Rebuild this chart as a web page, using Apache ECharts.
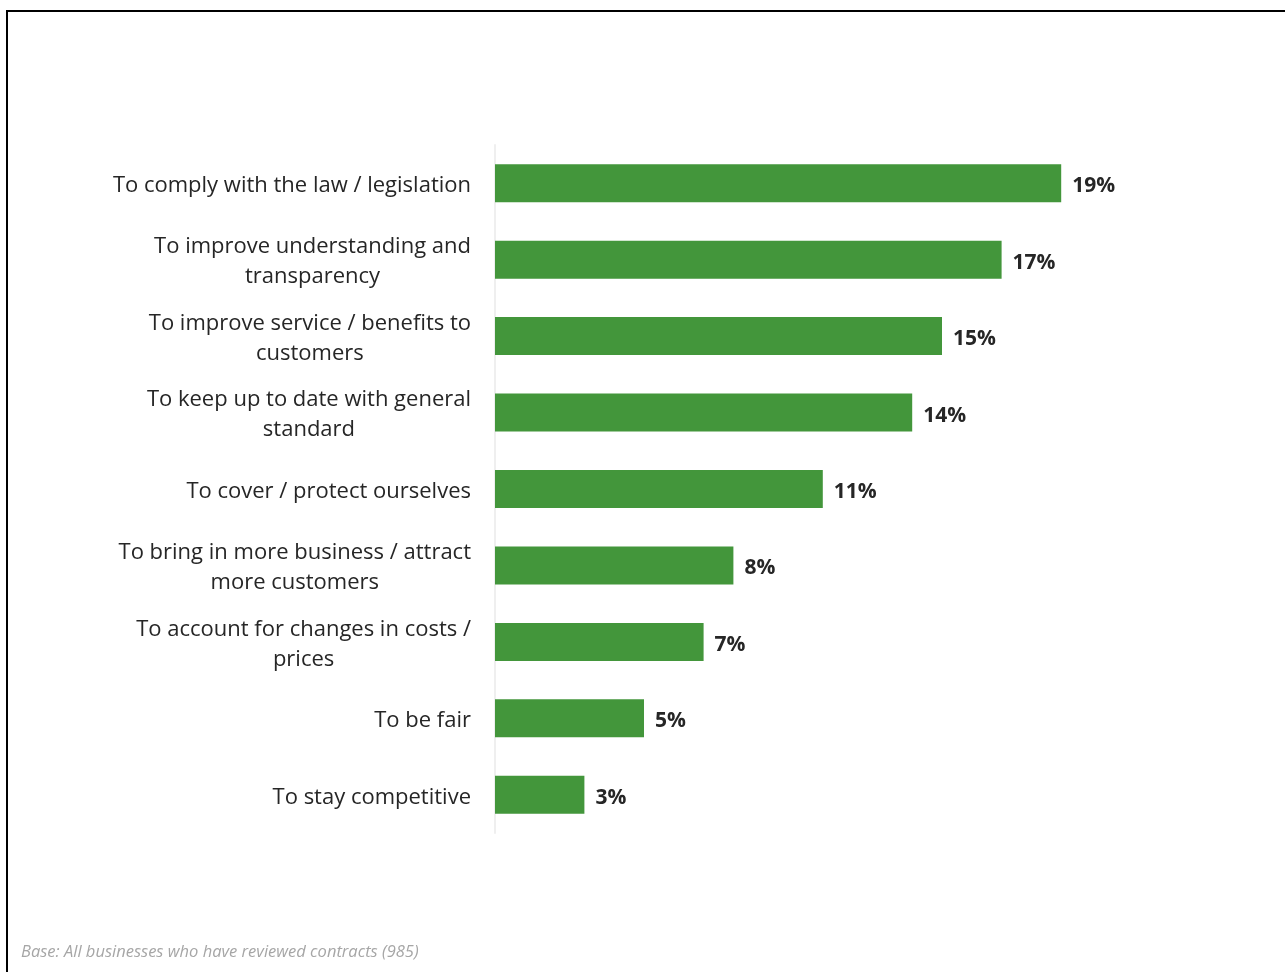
<!DOCTYPE html>
<html>
<head>
<meta charset="utf-8">
<script src="https://cdn.jsdelivr.net/npm/echarts@6/dist/echarts.min.js"></script>
<style>
  html, body { margin: 0; padding: 0; background: #fff; }
  #chart { width: 1285px; height: 972px; position: relative; }
  #frame {
    position: absolute; left: 6px; top: 10px; width: 1300px; height: 1000px;
    border-left: 2px solid #000; border-top: 2px solid #000; pointer-events: none;
  }
</style>
</head>
<body>
<div id="chart"></div>
<div id="frame"></div>
<script>
// Reasons for reviewing contracts (share of businesses, %)
const categories = [
  'To comply with the law / legislation',
  'To improve understanding and\ntransparency',
  'To improve service / benefits to\ncustomers',
  'To keep up to date with general\nstandard',
  'To cover / protect ourselves',
  'To bring in more business / attract\nmore customers',
  'To account for changes in costs /\nprices',
  'To be fair',
  'To stay competitive'
];
const values = [19, 17, 15, 14, 11, 8, 7, 5, 3];
const footnote = 'Base: All businesses who have reviewed contracts (985)';

const chart = echarts.init(document.getElementById('chart'), null, { renderer: 'canvas' });
chart.setOption({
  animation: false,
  backgroundColor: '#ffffff',
  graphic: [{
    type: 'text',
    left: 21,
    top: 944,
    style: {
      text: footnote,
      fill: '#a6a6a6',
      font: 'italic 16.5px "Open Sans", sans-serif'
    }
  }],
  grid: { left: 495, top: 145, width: 596, height: 688, containLabel: false },
  xAxis: {
    type: 'value',
    min: 0,
    max: 20,
    show: false
  },
  yAxis: {
    type: 'category',
    inverse: true,
    data: categories,
    axisLine: { show: true, lineStyle: { color: '#efefef', width: 2 } },
    axisTick: { show: false },
    splitLine: { show: false },
    axisLabel: {
      margin: 24,
      align: 'right',
      color: '#262626',
      fontFamily: '"Open Sans", sans-serif',
      fontSize: 22,
      lineHeight: 30,
      padding: [5, 0, 0, 0],
      formatter: v => v.split('\n').map(l => '{c|' + l + '}').join('\n'),
      rich: {
        c: {
          align: 'center',
          color: '#262626',
          fontFamily: '"Open Sans", sans-serif',
          fontSize: 22,
          lineHeight: 30
        }
      }
    }
  },
  series: [{
    type: 'bar',
    data: values,
    barWidth: 38,
    itemStyle: { color: '#43963b' },
    label: {
      show: true,
      position: 'right',
      distance: 11,
      offset: [0, 3],
      formatter: p => p.value + '%',
      color: '#262626',
      fontFamily: '"Open Sans", sans-serif',
      fontWeight: 'bold',
      fontSize: 21
    }
  }]
});
</script>
</body>
</html>
